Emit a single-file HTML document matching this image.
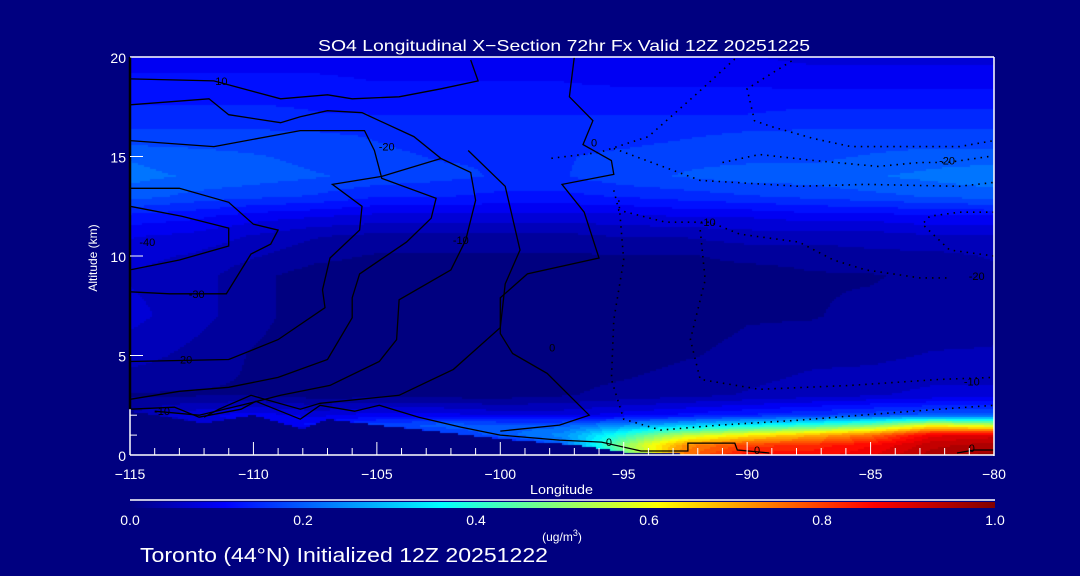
<!DOCTYPE html>
<html><head><meta charset="utf-8"><style>
html,body{margin:0;padding:0;background:#000080;width:1080px;height:576px;overflow:hidden}
#wrap{position:relative;width:1080px;height:576px;font-family:"Liberation Sans",sans-serif;color:#fff}
canvas{position:absolute;left:130px;top:57px}
svg{position:absolute;left:0;top:0}
</style></head><body>
<div id="wrap">
<canvas id="field" width="864" height="398"></canvas>
<svg id="svg" width="1080" height="576">
<defs><linearGradient id="cb" x1="0" x2="1" y1="0" y2="0">
<stop offset="0" stop-color="#000080"/><stop offset="0.11" stop-color="#0000ff"/><stop offset="0.36" stop-color="#00ffff"/><stop offset="0.61" stop-color="#ffff00"/><stop offset="0.86" stop-color="#ff0000"/><stop offset="1" stop-color="#800000"/></linearGradient></defs>
<text x="318" y="51" textLength="492" lengthAdjust="spacingAndGlyphs" font-size="16" fill="#fff">SO4 Longitudinal X−Section 72hr  Fx Valid 12Z 20251225</text>
<g id="contours"></g>
<g id="axes"></g>
<text x="530" y="494" textLength="63" lengthAdjust="spacingAndGlyphs" font-size="13" fill="#fff">Longitude</text>
<text transform="translate(97,258) rotate(-90)" text-anchor="middle" font-size="12" fill="#fff">Altitude (km)</text>
<line x1="130" y1="500" x2="995" y2="500" stroke="#fff" stroke-width="1.5"/>
<rect x="130" y="502" width="865" height="6" fill="url(#cb)"/>
<g id="cbticks"></g>
<text x="562" y="541" text-anchor="middle" font-size="12" fill="#fff">(ug/m<tspan dy="-5" font-size="9">3</tspan><tspan dy="5">)</tspan></text>
<text x="140" y="562" textLength="408" lengthAdjust="spacingAndGlyphs" font-size="20" fill="#fff">Toronto (44°N) Initialized 12Z 20251222</text>
</svg>
</div>
<script>
const gridLons=[-115,-112.5,-110,-107.5,-105,-102.5,-100,-97.5,-95,-92.5,-90,-87.5,-85,-82.5,-80];
const gridAlts=[0,0.5,1,1.5,2,3,5,7,9,10,11,12,13,14,15,16,17,18,20];
const so4Values=[
[0,0,0,0,0,0,0.02,0.1,0.45,0.75,0.85,0.85,0.88,0.95,0.97],
[0,0,0,0,0,0.03,0.08,0.2,0.5,0.72,0.8,0.82,0.86,0.93,0.95],
[0,0,0,0,0.05,0.15,0.2,0.25,0.4,0.55,0.62,0.68,0.75,0.88,0.9],
[0,0.05,0.1,0.12,0.18,0.2,0.2,0.2,0.25,0.3,0.35,0.4,0.47,0.6,0.55],
[0.04,0.08,0.1,0.08,0.1,0.1,0.08,0.08,0.1,0.12,0.14,0.16,0.18,0.2,0.2],
[0.01,0.01,0.01,0.0,0.0,0.0,0.0,0.01,0.02,0.03,0.04,0.05,0.06,0.07,0.07],
[0.05,0.03,0.01,0.0,0.0,0.0,0.0,0.0,0.0,0.01,0.02,0.03,0.03,0.04,0.04],
[0.07,0.05,0.02,0.0,0.0,0.0,0.0,0.0,0.0,0.0,0.01,0.01,0.02,0.02,0.03],
[0.06,0.05,0.02,0.0,0.0,0.0,0.0,0.0,0.0,0.0,0.0,0.01,0.01,0.02,0.03],
[0.07,0.06,0.04,0.02,0.01,0.01,0.01,0.01,0.01,0.01,0.02,0.02,0.03,0.03,0.04],
[0.09,0.08,0.06,0.04,0.03,0.03,0.03,0.03,0.04,0.04,0.05,0.05,0.05,0.06,0.06],
[0.13,0.12,0.1,0.09,0.08,0.08,0.08,0.08,0.08,0.09,0.09,0.1,0.1,0.11,0.11],
[0.2,0.18,0.17,0.16,0.14,0.14,0.13,0.13,0.14,0.15,0.16,0.17,0.18,0.19,0.2],
[0.22,0.21,0.2,0.19,0.18,0.17,0.16,0.16,0.18,0.19,0.2,0.2,0.21,0.22,0.23],
[0.21,0.2,0.19,0.18,0.17,0.16,0.16,0.16,0.17,0.18,0.18,0.18,0.19,0.2,0.2],
[0.17,0.17,0.17,0.17,0.16,0.15,0.15,0.15,0.15,0.16,0.17,0.17,0.17,0.17,0.17],
[0.15,0.15,0.15,0.14,0.14,0.14,0.14,0.14,0.14,0.14,0.14,0.15,0.15,0.15,0.15],
[0.13,0.13,0.13,0.13,0.12,0.12,0.12,0.12,0.12,0.12,0.12,0.12,0.12,0.12,0.12],
[0.1,0.1,0.1,0.1,0.1,0.1,0.1,0.1,0.09,0.09,0.09,0.08,0.08,0.08,0.08]];
const terrainLons=[-115,-112,-110,-108,-107,-105,-102,-100,-97,-95,-92,-80];
const terrainAlts=[2.2,1.6,2.0,1.3,1.8,1.5,1.1,0.8,0.5,0.15,0.02,0];
const xTicks=[-115,-110,-105,-100,-95,-90,-85,-80];
const yTicks=[0,5,10,15,20];
const cbTicks=[0,0.2,0.4,0.6,0.8,1.0];
const solidContours=[
[[-115,18.9],[-111.6,18.8],[-108.9,17.9],[-107,18.1],[-106,17.9],[-104.1,18],[-102.4,18.4],[-100.9,18.8],[-101.2,19.85]],
[[-115,17.6],[-111.8,17.9],[-111,17.1],[-108.9,16.7],[-108.1,17],[-107,17.3],[-105.6,17.2],[-103.5,16],[-102.4,14.9],[-104.8,14],[-106.8,13.6],[-105.6,12.5],[-105.7,11.3],[-106.9,9.9],[-107.2,8.3],[-107.1,7.4],[-109,5.8],[-111,4.8],[-115,4.7]],
[[-115,13.4],[-113,13.4],[-111,12.7],[-110,11.6],[-109,11.3],[-109.3,10.6],[-110.1,10.1],[-111.1,8.1],[-113.4,8.1],[-115,8.2]],
[[-115,12.5],[-112.9,12],[-111,11.4],[-111,10.5],[-113,9.8],[-115,9.3]],
[[-115,15.8],[-111.6,15.5],[-108.1,16.3],[-105.5,16.3],[-105.1,15.3],[-104.8,13.9],[-102.6,12.9],[-102.8,11.9],[-103.8,10.7],[-105.7,9.1],[-106,7.9],[-106,6.9],[-107,4.8],[-109,3.9],[-111,3.4],[-113,3.2],[-115,2.8]],
[[-102.4,14.9],[-101.2,14.2],[-101,12.8],[-101.4,10.8],[-102,9.3],[-104.1,7.8],[-104.2,5.8],[-104.9,4.7],[-106.9,3.5],[-108.9,3],[-110.5,2.5],[-112.2,2],[-114,2.2]],
[[-101.3,15.3],[-99.8,13.5],[-99.2,10.3],[-99.8,8.6],[-100,6.4],[-101.9,4.3],[-104.1,3],[-107.3,2.6],[-108.1,2.3],[-110.1,3],[-111.4,2.3],[-112,1.9]],
[[-97,20],[-97.2,18],[-96.25,16.8],[-96.65,15.6],[-95.5,14.8],[-95.4,14.1],[-97.5,13.6],[-96.6,12.2],[-96,9.9],[-98.9,9.1],[-100,7.9],[-100,6.1],[-99.5,5.1],[-98.1,4.1],[-96.4,2],[-97.6,1.5],[-100,1.2]],
[[-115,2.3],[-113.2,2.4],[-112.2,1.9],[-110.5,2.3],[-109.9,2.7],[-108.1,1.8],[-107.3,2.5],[-105.9,2.2],[-104.9,2.5],[-103.3,1.9],[-101.6,1.4],[-100,1],[-97.6,0.75],[-95.9,0.65],[-94.3,0.2],[-92.4,0.2],[-92.4,0.6],[-90.5,0.6],[-90.4,0.25],[-89.1,0.1]],
[[-81.5,0.1],[-80.8,0.25],[-80,0.25]]];
const dottedContours=[
[[-88.2,19.8],[-90,18.4],[-89.7,16.8],[-89,16.5],[-87.3,15.9],[-85.8,15.5],[-83.8,15.5],[-81.4,15.5],[-80,15.8]],
[[-91,14.7],[-89.5,15.1],[-87.3,14.8],[-84.7,14.5],[-83,14.7],[-81.9,14.7],[-80.2,15]],
[[-95.4,15.4],[-91.9,13.8],[-87.9,13.5],[-85.2,13.6],[-81.4,13.5],[-80,13.7]],
[[-95.4,13.3],[-95.2,12.3],[-93.3,11.7],[-91.5,11.7],[-90.3,11.1],[-87.9,10.7],[-86.5,9.8],[-85.2,9.3],[-83,8.9],[-81.8,8.9]],
[[-80,12.2],[-81.4,12.2],[-82.6,12],[-82.9,11.6],[-81.8,10.3],[-80,10]],
[[-95.2,12.8],[-95,9.8],[-95.4,6.8],[-95.5,3.8],[-95,1.8],[-93.5,1.25],[-91.1,1.5],[-87.9,1.75],[-85.4,2],[-82.2,2.3],[-80,2.5]],
[[-91.9,11.3],[-91.7,8.8],[-92.3,5.8],[-91.9,3.8],[-89.5,3.3],[-85.8,3.5],[-82.2,3.8],[-80,3.9]],
[[-90.5,19.9],[-92,18.2],[-94,16],[-96,15.2],[-98,14.9]]];
const contourLabels=[["10",-111.3,18.8],["-20",-104.6,15.5],["-30",-112.3,8.1],["-20",-112.8,4.8],["-10",-113.7,2.2],["0",-96.2,15.7],["-10",-101.6,10.8],["0",-97.9,5.4],["0",-95.6,0.65],["0",-89.6,0.25],["0",-80.9,0.35],["-10",-91.6,11.7],["-20",-81.9,14.8],["-20",-80.7,9.0],["-10",-80.9,3.7],["-40",-114.3,10.7]];

const X0=130,X1=994,Y0=455,Y1=57;
const xs=lon=>X0+(lon+115)/35*(X1-X0);
const ys=a=>Y0-a/20*(Y0-Y1);
const NS='http://www.w3.org/2000/svg';
function cmap(v){const st=[[0,0,0,128],[0.11,0,0,255],[0.36,0,255,255],[0.61,255,255,0],[0.86,255,0,0],[1,128,0,0]];
 v=Math.max(0,Math.min(1,v));for(let i=1;i<st.length;i++){if(v<=st[i][0]){const a=st[i-1],b=st[i],t=(v-a[0])/(b[0]-a[0]);return [a[1]+(b[1]-a[1])*t,a[2]+(b[2]-a[2])*t,a[3]+(b[3]-a[3])*t];}}return [128,0,0];}
function idx(arr,v){for(let i=0;i<arr.length-1;i++){if(v<=arr[i+1])return [i,(v-arr[i])/(arr[i+1]-arr[i])];}return [arr.length-2,1];}
function sample(lon,alt){const [i,tx]=idx(gridLons,lon),[j,ty]=idx(gridAlts,alt);
 const a=so4Values[j][i],b=so4Values[j][i+1],c=so4Values[j+1][i],d=so4Values[j+1][i+1];
 return (a*(1-tx)+b*tx)*(1-ty)+(c*(1-tx)+d*tx)*ty;}
function terrain(lon){const [i,t]=idx(terrainLons,lon);return terrainAlts[i]*(1-t)+terrainAlts[i+1]*t;}
const ctx=document.getElementById('field').getContext('2d');
const W=864,H=398,S=2;
for(let py=0;py<H;py+=S){for(let px=0;px<W;px+=S){
 const lon=-115+(px+S/2)/W*35, alt=20-(py+S/2)/H*20;
 let v=alt<terrain(lon)?0:sample(lon,alt);
 v=Math.round(v*40)/40;
 const c=cmap(v);ctx.fillStyle='rgb('+(c[0]|0)+','+(c[1]|0)+','+(c[2]|0)+')';ctx.fillRect(px,py,S,S);}}
const cg=document.getElementById('contours');
function poly(pts,dotted,name){const p=document.createElementNS(NS,'polyline');
 p.setAttribute('points',pts.map(q=>xs(q[0]).toFixed(1)+','+ys(q[1]).toFixed(1)).join(' '));
 p.setAttribute('fill','none');p.setAttribute('stroke','#000');p.setAttribute('stroke-width',dotted?'1.6':'1.3');
 if(dotted)p.setAttribute('stroke-dasharray','1.5 5');
 
 
 cg.appendChild(p);}
solidContours.forEach(c=>poly(c,false,'positive-contour-line'));
dottedContours.forEach(c=>poly(c,true,'negative-contour-line'));
contourLabels.forEach(l=>{const t=document.createElementNS(NS,'text');
 t.setAttribute('x',xs(l[1]));t.setAttribute('y',ys(l[2])+4);t.setAttribute('font-size','11');t.setAttribute('fill','#000');t.setAttribute('text-anchor','middle');t.textContent=l[0];
 
 
 cg.appendChild(t);});
const ax=document.getElementById('axes');
function line(x1,y1,x2,y2,col,name,w){const l=document.createElementNS(NS,'line');
 l.setAttribute('x1',x1);l.setAttribute('y1',y1);l.setAttribute('x2',x2);l.setAttribute('y2',y2);l.setAttribute('stroke',col);l.setAttribute('stroke-width',w||1.5);
 
 
 ax.appendChild(l);}
function text(x,y,s,anchor,name,g,fs){const t=document.createElementNS(NS,'text');
 t.setAttribute('x',x);t.setAttribute('y',y);t.setAttribute('fill','#fff');t.setAttribute('font-size',fs||14);t.setAttribute('text-anchor',anchor);t.textContent=s;
 
 
 (g||ax).appendChild(t);}
line(X0,Y1,X1,Y1,'#fff','plot-top-border');
line(X1,Y1,X1,Y0+1,'#fff','plot-right-border');
line(X0,Y0,X1,Y0,'#fff','x-axis-line');
line(X0,Y1,X0,ys(2.3),'#000','y-axis-line-upper',2.5);
line(X0,ys(2.3),X0,Y0,'#fff','y-axis-line-lower');
for(let lon=-115;lon<=-80;lon++){const maj=xTicks.includes(lon);line(xs(lon),Y0,xs(lon),Y0-(maj?13:7),'#fff',maj?'x-major-tick':'x-minor-tick',1);}
xTicks.forEach(v=>text(xs(v),Y0+24,String(v).replace('-','−'),'middle','x-tick-label'));
for(let a=0;a<=20;a++){const maj=yTicks.includes(a);if(a<=2||maj)line(X0,ys(a),X0+(maj?13:7),ys(a),'#fff',maj?'y-major-tick':'y-minor-tick',1);}
yTicks.forEach(v=>text(X0-4,ys(v)+6,String(v),'end','y-tick-label'));
const cb=document.getElementById('cbticks');
cbTicks.forEach(v=>text(130+v*865,525,v.toFixed(1),'middle','colorbar-tick-label',cb));
</script>
</body></html>
